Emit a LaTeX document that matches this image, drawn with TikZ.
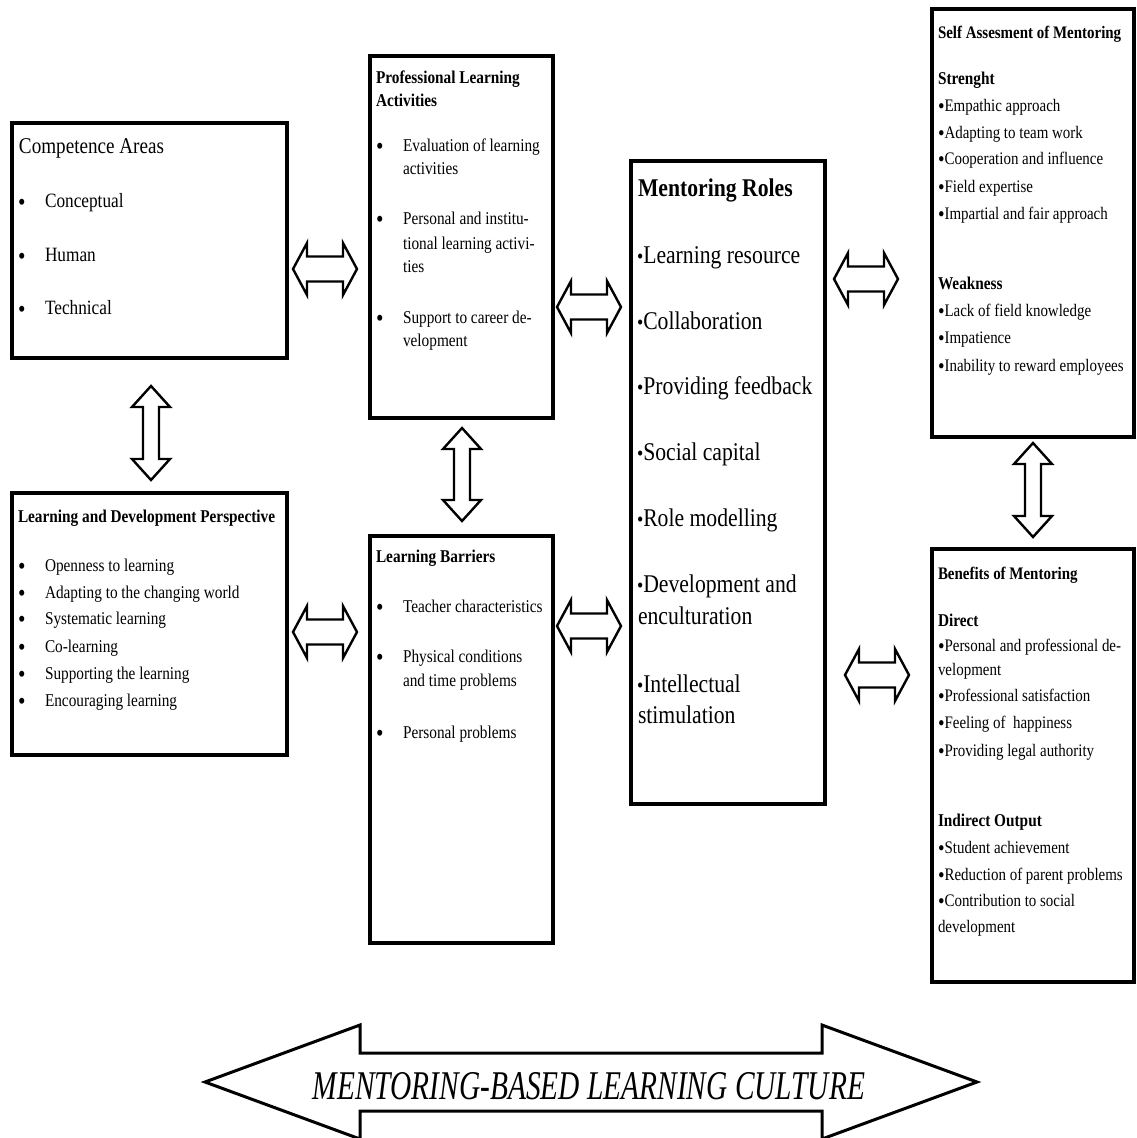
\documentclass[tikz,border=0pt]{standalone}
\usepackage{fontspec}
\setmainfont{Liberation Serif}[FakeStretch=0.85]
\newfontfamily\bannerfont{Liberation Serif}[FakeStretch=0.72]
\newcommand\fA{\fontsize{18}{18}\selectfont}
\newcommand\fC{\fontsize{17.6}{17.6}\selectfont}
\newcommand\fB{\fontsize{20.3}{20.3}\selectfont}
\newcommand\fT{\fontsize{22.5}{22.5}\selectfont}
\newcommand\fM{\fontsize{25.5}{25.5}\selectfont}
\newcommand\fBul{\fontsize{25}{18}\selectfont}
\newcommand\smallbul{{\fontsize{21}{21}\selectfont •}}
\newcommand\attbul{\raisebox{-2.5pt}{\fontsize{22}{18}\selectfont •}}
\begin{document}
\begin{tikzpicture}[x=1pt,y=-1pt,
  box/.style={draw, line width=3.8pt, inner sep=0pt, outer sep=0pt},
  txt/.style={anchor=base west, inner sep=0pt, outer sep=0pt},
  bul/.style={anchor=base west, inner sep=0pt, outer sep=0pt, font=\fBul, yshift=-3.5pt},
  blockarrow/.style={draw, line width=2.4pt, fill=white, line join=miter},
  bigarrow/.style={draw, line width=3pt, fill=white, line join=miter}]
\useasboundingbox (0,0) rectangle (1136,1138);

% ---------- boxes ----------
\node[box, minimum width=275pt, minimum height=235pt] (ca)  at (149.5,240.5) {};
\node[box, minimum width=183pt, minimum height=362pt] (pla) at (461.5,237) {};
\node[box, minimum width=194pt, minimum height=643pt] (mr)  at (728,482.5) {};
\node[box, minimum width=202pt, minimum height=428pt] (sa)  at (1033,223) {};
\node[box, minimum width=202pt, minimum height=433pt] (bm)  at (1033,765.5) {};
\node[box, minimum width=275pt, minimum height=262pt] (ldp) at (149.5,624) {};
\node[box, minimum width=183pt, minimum height=407pt] (lb)  at (461.5,739.5) {};

% ---------- Competence Areas ----------
\node[txt, font=\fT] (ca-t) at (19,153) {Competence Areas};
\node[bul] (ca-b1) at (18,207) {•};
\node[txt, font=\fB] (ca-1) at (45,207) {Conceptual};
\node[bul] (ca-b2) at (18,261) {•};
\node[txt, font=\fB] (ca-2) at (45,261) {Human};
\node[bul] (ca-b3) at (18,314) {•};
\node[txt, font=\fB] (ca-3) at (45,314) {Technical};

% ---------- Professional Learning Activities ----------
\node[txt, font=\fA\bfseries] (pla-t1) at (376,83) {Professional Learning};
\node[txt, font=\fA\bfseries] (pla-t2) at (376,106) {Activities};
\node[bul] (pla-b1) at (376,151) {•};
\node[txt, font=\fA] (pla-1a) at (403,151) {Evaluation of learning};
\node[txt, font=\fA] (pla-1b) at (403,174) {activities};
\node[bul] (pla-b2) at (376,224) {•};
\node[txt, font=\fA] (pla-2a) at (403,224) {Personal and institu-};
\node[txt, font=\fA] (pla-2b) at (403,249) {tional learning activi-};
\node[txt, font=\fA] (pla-2c) at (403,272) {ties};
\node[bul] (pla-b3) at (376,323) {•};
\node[txt, font=\fA] (pla-3a) at (403,323) {Support to career de-};
\node[txt, font=\fA] (pla-3b) at (403,346) {velopment};

% ---------- Mentoring Roles ----------
\node[txt, font=\fM\bfseries] (mr-t) at (638,196) {Mentoring Roles};
\node[txt, font=\fM] (mr-1) at (637,263) {\smallbul Learning resource};
\node[txt, font=\fM] (mr-2) at (637,329) {\smallbul Collaboration};
\node[txt, font=\fM] (mr-3) at (637,394) {\smallbul Providing feedback};
\node[txt, font=\fM] (mr-4) at (637,460) {\smallbul Social capital};
\node[txt, font=\fM] (mr-5) at (637,526) {\smallbul Role modelling};
\node[txt, font=\fM] (mr-6a) at (637,592) {\smallbul Development and};
\node[txt, font=\fM] (mr-6b) at (638,624) {enculturation};
\node[txt, font=\fM] (mr-7a) at (637,692) {\smallbul Intellectual};
\node[txt, font=\fM] (mr-7b) at (638,723) {stimulation};

% ---------- Self Assesment of Mentoring ----------
\node[txt, font=\fC\bfseries] (sa-t) at (938,38) {Self Assesment of Mentoring};
\node[txt, font=\fA\bfseries] (sa-s) at (938,84) {Strenght};
\node[txt, font=\fC] (sa-1) at (938,111) {\attbul Empathic approach};
\node[txt, font=\fC] (sa-2) at (938,138) {\attbul Adapting to team work};
\node[txt, font=\fC] (sa-3) at (938,164) {\attbul Cooperation and influence};
\node[txt, font=\fC] (sa-4) at (938,192) {\attbul Field expertise};
\node[txt, font=\fC] (sa-5) at (938,219) {\attbul Impartial and fair approach};
\node[txt, font=\fA\bfseries] (sa-w) at (938,289) {Weakness};
\node[txt, font=\fC] (sa-6) at (938,316) {\attbul Lack of field knowledge};
\node[txt, font=\fC] (sa-7) at (938,343) {\attbul Impatience};
\node[txt, font=\fC] (sa-8) at (938,371) {\attbul Inability to reward employees};

% ---------- Benefits of Mentoring ----------
\node[txt, font=\fC\bfseries] (bm-t) at (938,579) {Benefits of Mentoring};
\node[txt, font=\fA\bfseries] (bm-d) at (938,626) {Direct};
\node[txt, font=\fC] (bm-1a) at (938,651) {\attbul Personal and professional de-};
\node[txt, font=\fC] (bm-1b) at (938,675) {velopment};
\node[txt, font=\fC] (bm-2) at (938,701) {\attbul Professional satisfaction};
\node[txt, font=\fC] (bm-3) at (938,728) {\attbul Feeling of\ \ happiness};
\node[txt, font=\fC] (bm-4) at (938,756) {\attbul Providing legal authority};
\node[txt, font=\fA\bfseries] (bm-i) at (938,826) {Indirect Output};
\node[txt, font=\fC] (bm-5) at (938,853) {\attbul Student achievement};
\node[txt, font=\fC] (bm-6) at (938,880) {\attbul Reduction of parent problems};
\node[txt, font=\fC] (bm-7a) at (938,906) {\attbul Contribution to social};
\node[txt, font=\fC] (bm-7b) at (938,932) {development};

% ---------- Learning and Development Perspective ----------
\node[txt, font=\fA\bfseries] (ldp-t) at (18,522) {Learning and Development Perspective};
\foreach \yy/\tx [count=\i] in {571/Openness to learning, 598/Adapting to the changing world, 624/Systematic learning, 652/Co-learning, 679/Supporting the learning, 706/Encouraging learning}{
  \node[bul] (ldp-b\i) at (18,\yy) {•};
  \node[txt, font=\fA] (ldp-\i) at (45,\yy) {\tx};
}

% ---------- Learning Barriers ----------
\node[txt, font=\fA\bfseries] (lb-t) at (376,562) {Learning Barriers};
\node[bul] (lb-b1) at (376,612) {•};
\node[txt, font=\fA] (lb-1) at (403,612) {Teacher characteristics};
\node[bul] (lb-b2) at (376,662) {•};
\node[txt, font=\fA] (lb-2a) at (403,662) {Physical conditions};
\node[txt, font=\fA] (lb-2b) at (403,686) {and time problems};
\node[bul] (lb-b3) at (376,738) {•};
\node[txt, font=\fA] (lb-3) at (403,738) {Personal problems};

% ---------- hollow double arrows ----------
\newcommand\harr[3]{% x1 x2 yc
  \draw[blockarrow] (#1,#3) -- (#1+14,#3-26) -- (#1+14,#3-12.5) -- (#2-14,#3-12.5)
   -- (#2-14,#3-26) -- (#2,#3) -- (#2-14,#3+26) -- (#2-14,#3+12.5)
   -- (#1+14,#3+12.5) -- (#1+14,#3+26) -- cycle;}
\newcommand\varr[3]{% xc y1 y2
  \draw[blockarrow] (#1,#2) -- (#1+19,#2+21) -- (#1+8,#2+21) -- (#1+8,#3-21)
   -- (#1+19,#3-21) -- (#1,#3) -- (#1-19,#3-21) -- (#1-8,#3-21)
   -- (#1-8,#2+21) -- (#1-19,#2+21) -- cycle;}

\harr{293}{357}{269}   % ca <-> pla
\harr{557}{621}{307}   % pla <-> mr
\harr{293}{357}{632}   % ldp <-> lb
\harr{557}{621}{626}   % lb <-> mr
\harr{834}{898}{279}   % mr <-> sa
\harr{845}{909}{675}   % mr <-> bm
\varr{151}{386}{480}   % ca <-> ldp
\varr{462}{428}{521}   % pla <-> lb
\varr{1033}{443}{537}  % sa <-> bm

% ---------- big banner arrow ----------
\draw[bigarrow] (205,1082) -- (360,1025) -- (360,1053) -- (822,1053) -- (822,1025)
  -- (977,1082) -- (822,1139) -- (822,1111) -- (360,1111) -- (360,1139) -- cycle;
\node[anchor=base, inner sep=0pt, font={\bannerfont\itshape\fontsize{40.8}{41}\selectfont}] (banner) at (589,1099) {MENTORING-BASED LEARNING CULTURE};
\end{tikzpicture}
\end{document}
